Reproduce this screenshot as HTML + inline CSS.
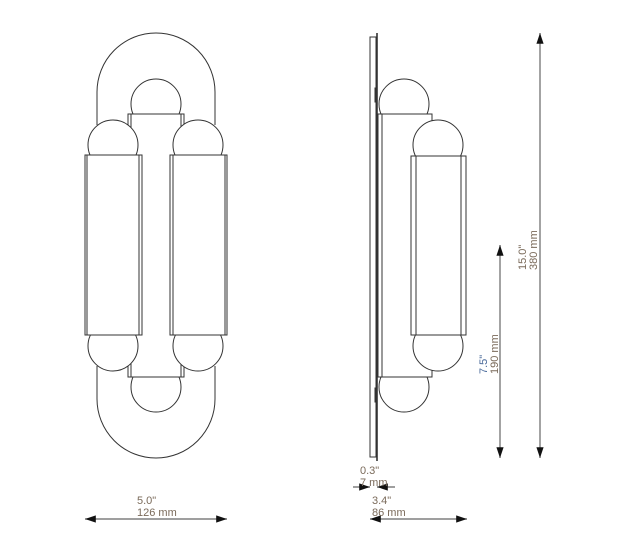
<!DOCTYPE html>
<html><head><style>html,body{margin:0;padding:0;background:#fff}svg{display:block}text{font-family:"Liberation Sans",sans-serif;font-size:11px;fill:#7a6a5a}</style></head>
<body>
<svg width="621" height="553" viewBox="0 0 621 553" xmlns="http://www.w3.org/2000/svg">
<defs>
<marker id="a" viewBox="0 0 12 10" refX="12" refY="5" markerWidth="12" markerHeight="9" orient="auto-start-reverse" markerUnits="userSpaceOnUse"><path d="M0,1 L12,5 L0,9 z" fill="#111"/></marker>
</defs>
<g fill="#fff" stroke="#333" stroke-width="1">
<path d="M97,125 L97,92 A59,59 0 0 1 215,92 L215,125"/>
<path d="M97,366 L97,399 A59,59 0 0 0 215,399 L215,366"/>
<circle cx="156" cy="104" r="25"/>
<circle cx="156" cy="387" r="25"/>
<rect x="128" y="114" width="56" height="263"/>
<line x1="131" y1="114" x2="131" y2="377"/><line x1="181" y1="114" x2="181" y2="377"/>
<circle cx="113" cy="145" r="25"/><circle cx="198" cy="145" r="25"/>
<circle cx="113" cy="346" r="25"/><circle cx="198" cy="346" r="25"/>
<rect x="85" y="155" width="57" height="180"/>
<rect x="170" y="155" width="57" height="180"/>
<line x1="87" y1="155" x2="87" y2="335"/><line x1="139" y1="155" x2="139" y2="335"/>
<line x1="173" y1="155" x2="173" y2="335"/><line x1="225" y1="155" x2="225" y2="335"/>
<circle cx="404" cy="104" r="25"/>
<circle cx="404" cy="387" r="25"/>
<rect x="378" y="114" width="54" height="263"/>
<line x1="382" y1="114" x2="382" y2="377"/>
<circle cx="438" cy="145" r="25"/>
<circle cx="438" cy="346" r="25"/>
<rect x="411" y="156" width="55" height="179"/>
<line x1="416" y1="156" x2="416" y2="335"/><line x1="461" y1="156" x2="461" y2="335"/>
<rect x="370" y="37" width="6" height="420"/>
<line x1="377" y1="33" x2="377" y2="461" stroke-width="1.6"/>
<rect x="375" y="88" width="2" height="14" fill="#333"/>
<rect x="375" y="388" width="2" height="14" fill="#333"/>
</g>
<g stroke="#666" stroke-width="1.2" fill="none">
<line x1="540" y1="33" x2="540" y2="458" marker-start="url(#a)" marker-end="url(#a)"/>
<line x1="500" y1="245" x2="500" y2="458" marker-start="url(#a)" marker-end="url(#a)"/>
<line x1="85" y1="519" x2="227" y2="519" marker-start="url(#a)" marker-end="url(#a)"/>
<line x1="370" y1="519" x2="467" y2="519" marker-start="url(#a)" marker-end="url(#a)"/>
<line x1="353" y1="487" x2="370" y2="487" marker-end="url(#a)"/>
<line x1="395" y1="487" x2="377" y2="487" marker-end="url(#a)"/>
</g>
<text x="137" y="504">5.0"</text><text x="137" y="516">126 mm</text>
<text x="372" y="504">3.4"</text><text x="372" y="516">86 mm</text>
<text x="360" y="474">0.3"</text><text x="360" y="486">7 mm</text>
<text transform="translate(487,374) rotate(-90)" style="fill:#4a6a9a">7.5"</text>
<text transform="translate(498,374) rotate(-90)">190 mm</text>
<text transform="translate(526,270) rotate(-90)">15.0"</text>
<text transform="translate(537,270) rotate(-90)">380 mm</text>
</svg>
</body></html>
